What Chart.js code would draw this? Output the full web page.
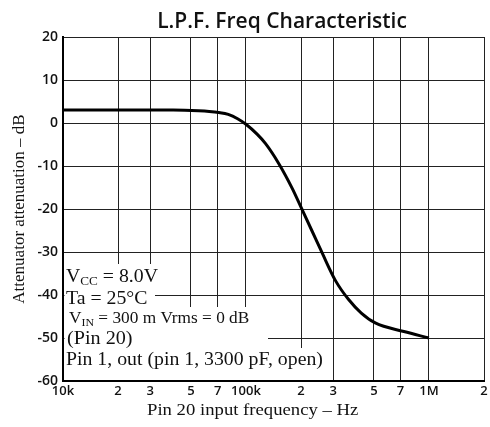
<!doctype html>
<html>

<head>
	<title>L.P.F. Freq Characteristic</title>
	<script src="https://cdn.jsdelivr.net/npm/chart.js@4/dist/chart.umd.min.js"></script>
	<style>
	html, body {
		margin: 0;
		padding: 0;
		background: #fff;
	}
	#wrap {
		width: 490px;
		height: 427px;
	}
	</style>
</head>

<body>
	<div id="wrap">
		<canvas id="canvas" width="490" height="427"></canvas>
	</div>
	<script>
		// curve (Hz, dB)
		const freqHz = [10e3, 20e3, 40e3, 55e3, 63e3, 71e3, 80e3, 90e3, 100e3, 115e3, 128e3, 151e3, 179e3, 201e3, 229e3, 262e3, 308e3, 363e3, 427e3, 509e3, 730e3, 1e6];
		const attenDb = [3.0, 3.0, 3.0, 2.85, 2.7, 2.45, 2.0, 1.0, -0.3, -2.6, -4.8, -9.4, -15.2, -19.8, -25.0, -30.4, -36.6, -41.0, -44.2, -46.5, -48.5, -50.0];

		const xTicks = [10e3, 20e3, 30e3, 50e3, 70e3, 100e3, 200e3, 300e3, 500e3, 700e3, 1e6, 2e6];
		const xTickLabels = ['10k', '2', '3', '5', '7', '100k', '2', '3', '5', '7', '1M', '2'];
		const yMin = -60, yMax = 20, yStep = 10;

		const chartTitle = 'L.P.F. Freq Characteristic';
		const xTitle = 'Pin 20 input frequency \u2013 Hz';
		const yTitle = 'Attenuator attenuation \u2013 dB';

		const serif = '"Liberation Serif", "DejaVu Serif", serif';
		const sans = '"Open Sans", "Noto Sans", sans-serif';

		// draws text made of normal + subscript pieces, a bit stretched sideways
		function drawParts(ctx, x, y, parts, stretch) {
			ctx.save();
			ctx.textAlign = 'left';
			ctx.textBaseline = 'alphabetic';
			ctx.translate(x, y);
			ctx.scale(stretch || 1.1, 1);
			let cx = 0;
			parts.forEach((p) => {
				ctx.font = p.size + 'px ' + serif;
				ctx.fillText(p.t, cx, p.sub ? 3 : 0);
				cx += ctx.measureText(p.t).width;
			});
			ctx.restore();
		}

		const notesPlugin = {
			id: 'notes',
			afterDraw(chart) {
				const ctx = chart.ctx;
				const a = chart.chartArea;
				ctx.save();

				// chart title
				ctx.fillStyle = '#111';
				ctx.font = '600 21px ' + sans;
				ctx.textAlign = 'center';
				ctx.textBaseline = 'alphabetic';
				ctx.fillText(chartTitle, 282, 28);

				// x axis title
				drawParts(ctx, 147, 415, [{t: xTitle, size: 17}], 1.1);

				// white boxes behind the condition notes
				ctx.fillStyle = '#fff';
				const L = a.left + 1.5;
				ctx.fillRect(L, 264, 163 - L, 21);
				ctx.fillRect(L, 285, 155 - L, 22);
				ctx.fillRect(L, 307, 255 - L, 23);
				ctx.fillRect(L, 330, 268 - L, 18);
				ctx.fillRect(L, 348, 330 - L, a.bottom - 1 - 348);

				ctx.fillStyle = '#111';
				drawParts(ctx, 66, 282, [{t: 'V', size: 18}, {t: 'CC', size: 12, sub: true}, {t: ' = 8.0V', size: 18}], 1.1);
				drawParts(ctx, 66, 304, [{t: 'Ta = 25\u00b0C', size: 18}], 1.1);
				drawParts(ctx, 69, 323, [{t: 'V', size: 16}, {t: 'IN', size: 11, sub: true}, {t: ' = 300 m Vrms = 0 dB', size: 16}], 1.08);
				drawParts(ctx, 67, 344, [{t: '(Pin 20)', size: 18}], 1.12);
				drawParts(ctx, 66, 365, [{t: 'Pin 1, out (pin 1, 3300 pF, open)', size: 18}], 1.1);
				ctx.restore();
			}
		};

		window.onload = function() {
			const ctx = document.getElementById('canvas').getContext('2d');
			window.myChart = new Chart(ctx, {
				type: 'line',
				data: {
					datasets: [{
						data: freqHz.map((f, i) => ({x: f, y: attenDb[i]})),
						borderColor: '#000',
						borderWidth: 3,
						pointRadius: 0,
						fill: false,
						cubicInterpolationMode: 'monotone'
					}]
				},
				options: {
					responsive: false,
					animation: false,
					layout: {
						padding: {top: 37, right: 6, left: 0, bottom: 0}
					},
					plugins: {
						legend: {display: false},
						tooltip: {enabled: false},
						title: {display: false}
					},
					scales: {
						x: {
							type: 'logarithmic',
							min: 10e3,
							max: 2e6,
							afterBuildTicks(scale) {
								scale.ticks = xTicks.map((v) => ({value: v}));
							},
							afterFit(scale) {
								scale.height = 46;
							},
							grid: {
								color: '#222',
								lineWidth: 1,
								drawTicks: false
							},
							border: {
								color: '#000',
								width: 2
							},
							ticks: {
								autoSkip: false,
								maxRotation: 0,
								padding: 2,
								color: '#111',
								font: {family: sans, size: 13, weight: '600'},
								callback: (value, index) => xTickLabels[index]
							}
						},
						y: {
							min: yMin,
							max: yMax,
							afterFit(scale) {
								scale.width = 63;
							},
							grid: {
								color: '#222',
								lineWidth: 1,
								drawTicks: false
							},
							border: {
								color: '#000',
								width: 2
							},
							ticks: {
								stepSize: yStep,
								padding: 5,
								color: '#111',
								font: {family: sans, size: 14, weight: '600'}
							},
							title: {
								display: true,
								text: yTitle,
								color: '#111',
								font: {family: serif, size: 17},
								padding: {top: 9, bottom: 0}
							}
						}
					}
				},
				plugins: [notesPlugin]
			});
		};
	</script>
</body>

</html>
